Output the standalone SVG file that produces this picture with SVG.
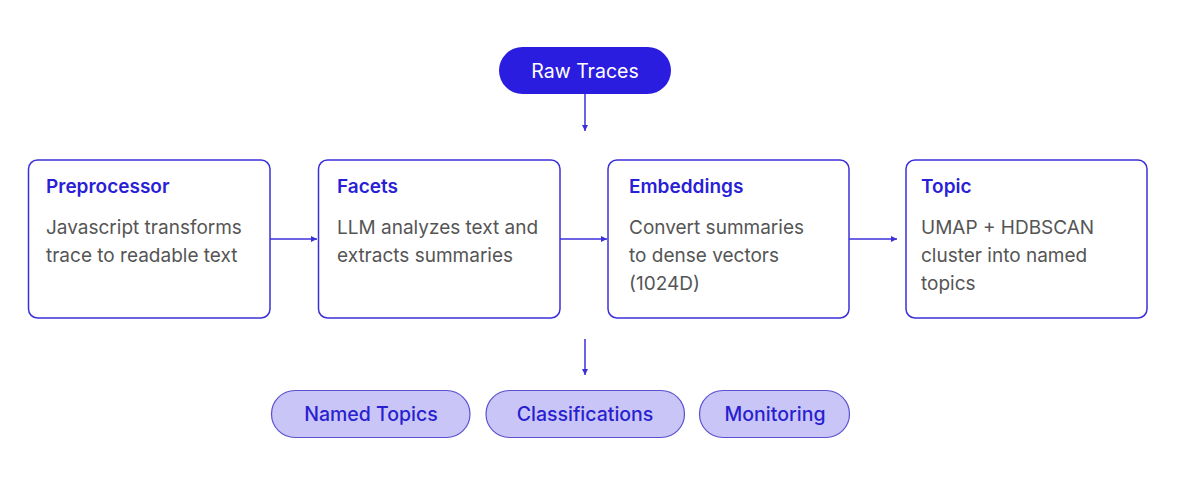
<svg xmlns="http://www.w3.org/2000/svg" width="1200" height="488" viewBox="0 0 1200 488">
<defs>
<style>
.box{fill:#ffffff;stroke:#3b30d8;stroke-width:1.5}
.title{font-family:Inter,"Liberation Sans",sans-serif;font-size:19px;font-weight:600;fill:#2a1fd6}
.desc{font-family:Inter,"Liberation Sans",sans-serif;font-size:19px;fill:#555555}
.pill{fill:#c9c6f7;stroke:#5a50d0;stroke-width:1.2}
.pilltext{font-family:Inter,"Liberation Sans",sans-serif;font-size:19.5px;font-weight:500;fill:#2a1fd0;text-anchor:middle}
.conn{stroke:#3b30d8;stroke-width:1.5;fill:none}
</style>
<marker id="arr" viewBox="0 0 10 10" refX="10" refY="5" markerWidth="6" markerHeight="6" markerUnits="userSpaceOnUse" orient="auto">
<path d="M0,0 L10,5 L0,10 z" fill="#3b30d8"/>
</marker>
</defs>
<rect width="1200" height="488" fill="#ffffff"/>
<g id="raw-traces">
<rect x="499" y="47" width="172" height="47" rx="23.5" fill="#2b1de0"/>
<text x="585" y="77.5" font-family="Inter,'Liberation Sans',sans-serif" font-size="19.5" fill="#ffffff" text-anchor="middle">Raw Traces</text>
</g>
<g id="connectors">
<line class="conn" x1="585" y1="94" x2="585" y2="131" marker-end="url(#arr)"/>
<line class="conn" x1="270" y1="239" x2="317" y2="239" marker-end="url(#arr)"/>
<line class="conn" x1="560" y1="239" x2="607" y2="239" marker-end="url(#arr)"/>
<line class="conn" x1="849" y1="239" x2="897" y2="239" marker-end="url(#arr)"/>
<line class="conn" x1="585" y1="339" x2="585" y2="375" marker-end="url(#arr)"/>
</g>
<g id="preprocessor">
<rect class="box" x="28.5" y="160" width="241.5" height="158" rx="9"/>
<text class="title" x="46" y="193">Preprocessor</text>
<text class="desc" x="46" y="234">Javascript transforms</text>
<text class="desc" x="46" y="262">trace to readable text</text>
</g>
<g id="facets">
<rect class="box" x="318.5" y="160" width="241.5" height="158" rx="9"/>
<text class="title" x="337" y="193">Facets</text>
<text class="desc" x="337" y="234">LLM analyzes text and</text>
<text class="desc" x="337" y="262">extracts summaries</text>
</g>
<g id="embeddings">
<rect class="box" x="608" y="160" width="241" height="158" rx="9"/>
<text class="title" x="629" y="193">Embeddings</text>
<text class="desc" x="629" y="234">Convert summaries</text>
<text class="desc" x="629" y="262">to dense vectors</text>
<text class="desc" x="629" y="290">(1024D)</text>
</g>
<g id="topic">
<rect class="box" x="906" y="160" width="241" height="158" rx="9"/>
<text class="title" x="921" y="193">Topic</text>
<text class="desc" x="921" y="234">UMAP + HDBSCAN</text>
<text class="desc" x="921" y="262">cluster into named</text>
<text class="desc" x="921" y="290">topics</text>
</g>
<g id="named-topics">
<rect class="pill" x="271.5" y="390.5" width="198.5" height="47" rx="23.5"/>
<text class="pilltext" x="371" y="421">Named Topics</text>
</g>
<g id="classifications">
<rect class="pill" x="486" y="390.5" width="198.5" height="47" rx="23.5"/>
<text class="pilltext" x="585" y="421">Classifications</text>
</g>
<g id="monitoring">
<rect class="pill" x="699.5" y="390.5" width="150" height="47" rx="23.5"/>
<text class="pilltext" x="775" y="421">Monitoring</text>
</g>
</svg>
